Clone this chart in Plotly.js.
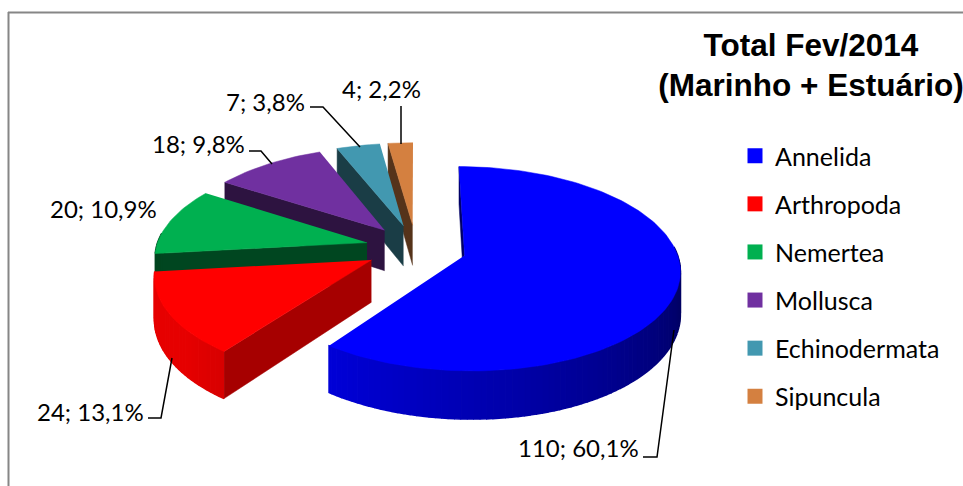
<!DOCTYPE html>
<html><head><meta charset="utf-8">
<script src="https://cdn.plot.ly/plotly-3.0.1.min.js"></script>
<style>html,body{margin:0;padding:0;background:#fff;overflow:hidden}#c{width:963px;height:486px}</style>
</head><body><div id="c"></div><script>
// ---- data ----
const categories = ['Annelida','Arthropoda','Nemertea','Mollusca','Echinodermata','Sipuncula'];
const values = [110,24,20,18,7,4];
const colors = [[0,0,255],[255,0,0],[0,176,80],[112,48,160],[66,152,176],[212,128,64]];
const titleText = 'Total Fev/2014<br>(Marinho + Estuário)';

// ---- projection of the exploded 3-D pie ----
const CX=416, CY=248, RX=211, RY=98.5, PERSP=0.129, EXPLODE=0.24, DEPTH=41.5;
function proj(u,v,z){const s=1/(1-PERSP*v);return [CX+RX*u*s, CY+RY*v*s+(z?DEPTH*s:0)];}
const total=values.reduce((a,b)=>a+b,0);
const rgb=(c,k)=>`rgb(${Math.round(c[0]*k)},${Math.round(c[1]*k)},${Math.round(c[2]*k)})`;
const rad=d=>d*Math.PI/180;

let acc=0;
const slices=values.map((v,i)=>{const a0=acc/total*360;acc+=v;const a1=acc/total*360;const m=rad((a0+a1)/2);
  return {i,a0,a1,ou:Math.sin(m)*EXPLODE,ov:-Math.cos(m)*EXPLODE};});
const rim=(s,a,z)=>proj(s.ou+Math.sin(rad(a)),s.ov-Math.cos(rad(a)),z);
const apex=(s,z)=>proj(s.ou,s.ov,z);

const traces=[];
function poly(pts,col,w){traces.push({type:'scatter',mode:'lines',x:pts.map(p=>p[0]),y:pts.map(p=>p[1]),
  fill:'toself',fillcolor:col,line:{color:col,width:w},hoverinfo:'skip',showlegend:false});}
const rimShade=a=>a>263.7?0.4:Math.min(0.9,0.38+Math.max(0,a-100)*0.004);
const cutShade=a=>a<240&&a>100?0.65:0.4;

// back slices first, front ones last
[5,4,3,2,1,0].forEach(k=>{const s=slices[k],c=colors[k];
  poly([apex(s,0),rim(s,s.a0,0),rim(s,s.a0,1),apex(s,1)],rgb(c,cutShade(s.a0)),0.5);
  const step=1.5;
  for(let a=Math.max(s.a0,85);a<Math.min(s.a1,275);a+=step){
    const b=Math.min(a+step,s.a1);
    poly([rim(s,a,0),rim(s,b,0),rim(s,b,1),rim(s,a,1)],rgb(c,rimShade((a+b)/2)),1.5);
  }
  const top=[apex(s,0)];
  for(let a=s.a0;a<s.a1;a+=1.5)top.push(rim(s,a,0));
  top.push(rim(s,s.a1,0));
  poly(top,rgb(c,1),0.5);
});

// leader lines
const leaders=[[[249,151],[261,151],[272,164]],[[310,107],[323,107],[360,147]],[[401,106],[401,144]],
  [[148,418],[161,418],[172,358]],[[643,457],[657,457],[674,330]]];
leaders.forEach(l=>traces.push({type:'scatter',mode:'lines',x:l.map(p=>p[0]),y:l.map(p=>p[1]),
  line:{color:'#000',width:1.5},hoverinfo:'skip',showlegend:false}));

// legend entries
categories.forEach((n,i)=>traces.push({type:'scatter',mode:'markers',x:[-100],y:[-100],name:n,legendgroup:n,
  marker:{symbol:'square',size:15,color:rgb(colors[i],1)},hoverinfo:'skip'}));

// data labels
const labelPos=[[641,447],[146,411],[159,208],[247,143],[307,101],[423,88]];
const FONT='Lato, "Open Sans", sans-serif';
const annotations=values.map((v,i)=>({xref:'x',yref:'y',x:labelPos[i][0],y:labelPos[i][1],xanchor:'right',yanchor:'middle',
  showarrow:false,text:`${v}; ${(v/total*100).toFixed(1).replace('.',',')}%`,font:{family:FONT,size:24,color:'#000'}}));

const layout={width:963,height:486,margin:{l:0,r:0,t:0,b:0},paper_bgcolor:'#fff',plot_bgcolor:'#fff',
  xaxis:{visible:false,range:[0,963],fixedrange:true},
  yaxis:{visible:false,range:[486,0],fixedrange:true},
  title:{text:titleText,x:811/963,xanchor:'center',xref:'paper',y:1-55.5/486,yanchor:'top',
    font:{family:'"Liberation Sans", Arial, sans-serif',size:31.5,color:'#000',weight:700}},
  showlegend:true,
  legend:{x:735/963,xanchor:'left',y:1-133/486,yanchor:'top',tracegroupgap:12.6,itemwidth:30,
    bgcolor:'rgba(0,0,0,0)',font:{family:FONT,size:25,color:'#000'}},
  annotations,
  shapes:[
    {type:'line',xref:'x',yref:'y',x0:8,y0:12.5,x1:963,y1:12.5,line:{color:'#868686',width:2}},
    {type:'line',xref:'x',yref:'y',x0:8.5,y0:12,x1:8.5,y1:486,line:{color:'#868686',width:2}}
  ]};
Plotly.newPlot('c',traces,layout,{displayModeBar:false,staticPlot:true});
</script></body></html>
